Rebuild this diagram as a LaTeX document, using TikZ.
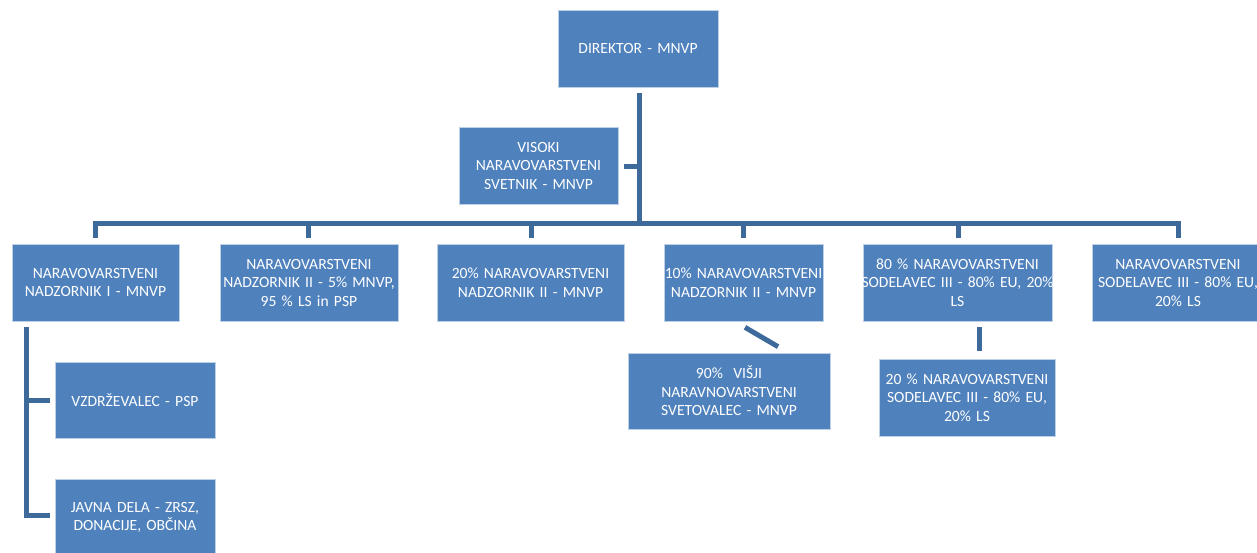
\documentclass[tikz,border=0pt]{standalone}
\usepackage{fontspec}
\setmainfont{Carlito}
\usetikzlibrary{calc}
\definecolor{boxblue}{RGB}{79,129,189}
\definecolor{boxedge}{RGB}{190,208,230}
\definecolor{linkblue}{RGB}{62,105,155}
\newcommand{\fitline}[1]{\makebox[\linewidth][c]{#1}}
\begin{document}
\begin{tikzpicture}[x=1pt,y=-1pt,
  box/.style={fill=boxblue, draw=boxedge, line width=0.7pt, text=white, align=center,
    inner sep=0pt, minimum height=77pt, font=\fontsize{15.6}{18.5}\selectfont},
  conn/.style={draw=linkblue, line width=5pt}]
\useasboundingbox (0,0) rectangle (1257,552);
\begin{scope}
\clip (0,0) rectangle (1257,552);
\node[box, minimum width=160, text width=160] (dir) at (638,48.5) {DIREKTOR - MNVP};
\node[box, minimum width=159, text width=159] (vis) at (538.5,165.5) {VISOKI\\NARAVOVARSTVENI\\SVETNIK - MNVP};
\node[box, minimum width=167, text width=167] (b1) at (95.5,282.5) {NARAVOVARSTVENI\\NADZORNIK I - MNVP};
\node[box, minimum width=178, text width=178] (b2) at (309,282.5) {NARAVOVARSTVENI\\\fitline{NADZORNIK II - 5\% MNVP,}\\95 \% LS in PSP};
\node[box, minimum width=187, text width=187] (b3) at (530.5,282.5) {20\% NARAVOVARSTVENI\\NADZORNIK II - MNVP};
\node[box, minimum width=159, text width=159] (b4) at (743.5,282.5) {\fitline{10\% NARAVOVARSTVENI}\\NADZORNIK II - MNVP};
\node[box, minimum width=189, text width=189] (b5) at (957.5,282.5) {80 \% NARAVOVARSTVENI\\\fitline{SODELAVEC III - 80\% EU, 20\%}\\LS};
\node[box, minimum width=172, text width=172] (b6) at (1178,282.5) {NARAVOVARSTVENI\\\fitline{SODELAVEC III - 80\% EU,}\\20\% LS};
\node[box, minimum width=202, text width=202, minimum height=76] (s90) at (729,391) {90\%\ \ VIŠJI\\NARAVNOVARSTVENI\\SVETOVALEC - MNVP};
\node[box, minimum width=176, text width=176] (s20) at (967,397.5) {20 \% NARAVOVARSTVENI\\\fitline{SODELAVEC III - 80\% EU,}\\20\% LS};
\node[box, minimum width=160, text width=160, minimum height=76] (vz) at (135,400) {VZDRŽEVALEC - PSP};
\node[box, minimum width=160, text width=160] (jd) at (135,517.5) {JAVNA DELA - ZRSZ,\\DONACIJE, OBČINA};
% connectors
\draw[conn] ($(dir.south)+(1,6)$) -- ($(dir.south)+(1,137)$) coordinate (hub);
\draw[conn] ($(b1.north)+(0,-6)$) -- ($(b1.north)+(0,-20)$) -- ($(b6.north)+(0,-20)$) -- ($(b6.north)+(0,-6)$);
\draw[conn] ($(b2.north)+(-1,-20)$) -- ($(b2.north)+(-1,-6)$);
\draw[conn] ($(b3.north)+(0.5,-20)$) -- ($(b3.north)+(0.5,-6)$);
\draw[conn] ($(b4.north)+(0,-20)$) -- ($(b4.north)+(0,-6)$);
\draw[conn] ($(b5.north)+(0.5,-20)$) -- ($(b5.north)+(0.5,-6)$);
\draw[conn] ($(vis.east)+(6,0.5)$) -- ($(vis.east)+(21,0.5)$);
\draw[conn] ($(b4.south)+(1.5,6)$) -- ($(s90.north)+(49,-6)$);
\draw[conn] ($(b5.south)+(21.5,6)$) -- ($(s20.north)+(12,-8)$);
\draw[conn] ($(b1.south west)+(15,6)$) -- ($(jd.west)+(-28,-2.5)$) -- ($(jd.west)+(-5,-2.5)$);
\draw[conn] ($(vz.west)+(-28,0)$) -- ($(vz.west)+(-5,0)$);
\end{scope}
\end{tikzpicture}
\end{document}
